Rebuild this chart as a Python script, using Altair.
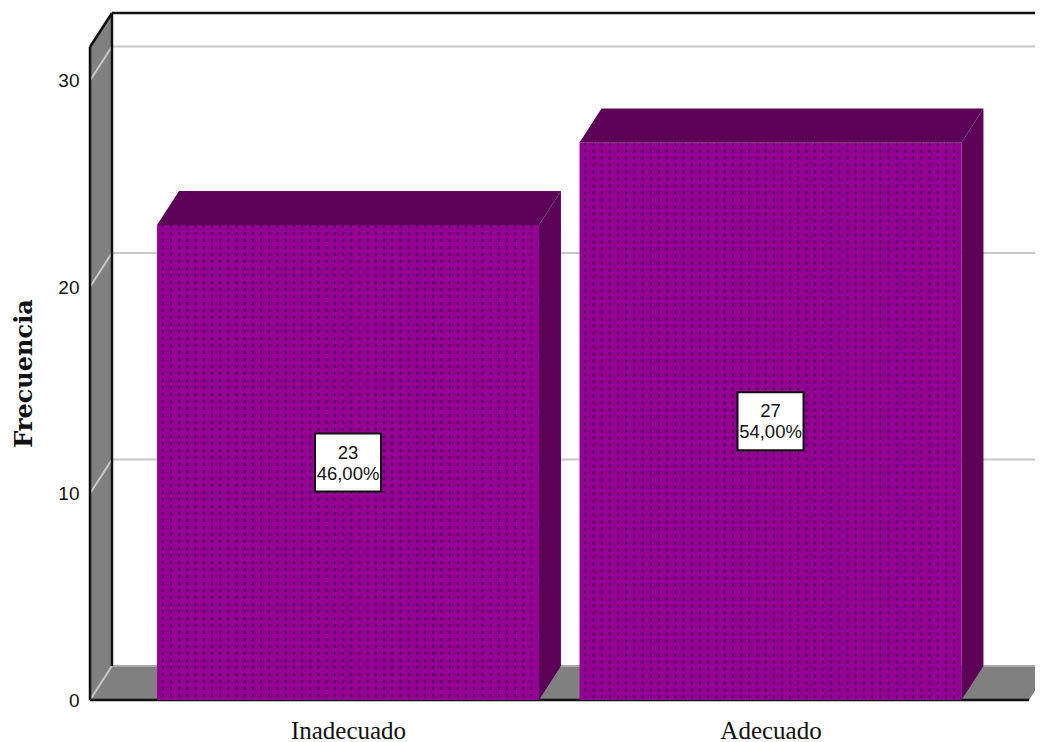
import json
import numpy as np
import pandas as pd
import altair as alt

categories = ["Inadecuado", "Adecuado"]
counts = [23, 27]
percents = ["46,00%", "54,00%"]
y_ticks = [0, 10, 20, 30]
y_title = "Frecuencia"

# drawing geometry, in axis units
POS = list(range(len(categories)))
HALF = 0.452
DX, DY = 0.052, 1.65
X0, XR, XEND = -0.6107, 1.612, 1.70
YMAX = 31.62
XDOM = [X0, 1.626]
YDOM = [0, 692 / 20.65]

PURPLE, DARK, GRAY = "#930093", "#5c0058", "#808080"

x_scale = alt.Scale(domain=XDOM, nice=False, zero=False)
y_scale = alt.Scale(domain=YDOM, nice=False, zero=False)
label_expr = "{}[datum.value]".format(json.dumps(categories))
x_axis = alt.Axis(
    values=POS, labelExpr=label_expr, grid=False, ticks=False, domain=False,
    labelFont="Liberation Serif", labelFontSize=25, labelColor="#111111",
    labelPadding=18, labelBaseline="top", labelOverlap=False, labelFlush=False)
y_axis = alt.Axis(
    values=y_ticks, grid=False, ticks=False, domain=False,
    labelFont="Liberation Sans", labelFontSize=19, labelColor="#111111", labelPadding=11,
    titleFont="DejaVu Serif", titleFontWeight="bold", titleFontSize=24, titleColor="#111111",
    titleX=-54, titleY=365)
X = alt.X("x:Q", scale=x_scale, axis=x_axis, title=None)
Y = alt.Y("y:Q", scale=y_scale, axis=y_axis, title=y_title, stack=None)


def face(name, color, pts):
    return [dict(face=name, color=color, x=a, y=b, y2=c) for a, b, c in pts]


def seg(x, y, x2, y2):
    return dict(x=x, y=y, x2=x2, y2=y2)


# walls and floor
faces = []
faces += face("wall", GRAY, [(X0, 0, YMAX), (X0 + DX, DY, YMAX + DY)])
faces += face("floor", GRAY, [(X0, 0, 0), (X0 + DX, 0, DY), (XR, 0, DY), (XR + DX, DY, DY)])

grid = [seg(X0 + DX, t + DY, XEND, t + DY) for t in y_ticks[1:]] + [seg(X0, t, X0 + DX, t + DY) for t in y_ticks]
floor_back = [seg(X0 + DX, DY, XEND, DY)]
frame = [
    seg(X0 + DX, YMAX + DY, XEND, YMAX + DY),
    seg(X0, YMAX, X0 + DX, YMAX + DY),
    seg(X0, 0, X0, YMAX),
    seg(X0 + DX, DY, X0 + DX, YMAX + DY),
    seg(X0, 0, XR, 0),
]

# bars
bar_rows, tops, texture, boxes = [], [], [], []
for p, v, c, pct in zip(POS, counts, categories, percents):
    l, r = p - HALF, p + HALF
    bar_rows.append(dict(x=l, x2=r, y=v, y2=0))
    tops += face(f"top{p}", DARK, [(l, v, v), (l + DX, v, v + DY), (r, v, v + DY), (r + DX, v + DY, v + DY)])
    tops += face(f"side{p}", DARK, [(r, 0, v), (r + DX, DY, v + DY)])
    for cx in np.arange(l + 0.0135, r, 0.0194):
        texture.append(seg(float(cx), v, float(cx), 0))
    boxes.append(dict(x=p - 33 / 422.5, x2=p + 33 / 422.5, y=v / 2 + 29 / 20.65, y2=v / 2 - 29 / 20.65,
                      cx=p, cy=v / 2, label=f"{v}\n{pct}"))

df_faces = pd.DataFrame(faces)
df_tops = pd.DataFrame(tops)


def area(df):
    return alt.Chart(df).mark_area(clip=True, opacity=1).encode(
        x=X, y=Y, y2="y2:Q",
        color=alt.Color("color:N", scale=None), detail="face:N")


def rules(rows, **kw):
    return alt.Chart(pd.DataFrame(rows)).mark_rule(**kw).encode(x=X, y=Y, x2="x2:Q", y2="y2:Q")


bars = alt.Chart(pd.DataFrame(bar_rows)).mark_bar(color=PURPLE, clip=False).encode(
    x=X, x2="x2:Q", y=Y, y2="y2:Q")
df_boxes = pd.DataFrame(boxes)
box_rect = alt.Chart(df_boxes).mark_rect(fill="white", stroke="#111111", strokeWidth=2).encode(
    x=X, x2="x2:Q", y=Y, y2="y2:Q")
box_text = alt.Chart(df_boxes).mark_text(
    lineBreak="\n", lineHeight=21, font="Liberation Sans", fontSize=18.5, color="#111111", baseline="middle", dy=-10,
).encode(
    x=alt.X("cx:Q", scale=x_scale, axis=x_axis, title=None),
    y=alt.Y("cy:Q", scale=y_scale, axis=y_axis, title=y_title),
    text="label:N")

chart = alt.layer(
    area(df_faces),
    rules(grid, color="#c8c8c8", strokeWidth=2),
    rules(floor_back, color="#a8a8a8", strokeWidth=2),
    rules(frame, color="#111111", strokeWidth=2.5),
    bars,
    area(df_tops),
    rules(texture, color="#3c0048", strokeWidth=1.5, strokeDash=[3, 4]),
    box_rect,
    box_text,
).properties(
    width=945, height=692,
    background="white",
    padding={"left": 82, "top": 0, "right": 0, "bottom": 42},
    autosize=alt.AutoSizeParams(type="none"),
).configure_view(stroke=None)

chart.save("out.html", embed_options={"renderer": "svg", "actions": False})
